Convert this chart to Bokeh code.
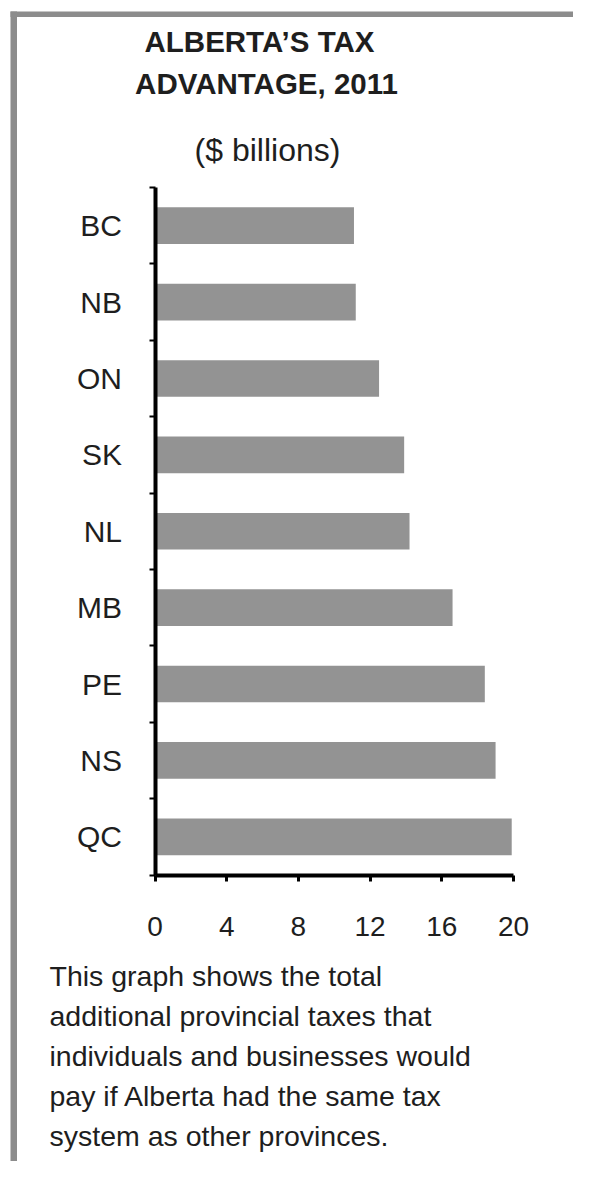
from bokeh.plotting import figure
from bokeh.models import Range1d, FixedTicker, Label, BoxAnnotation
from bokeh.embed import file_html
from bokeh.resources import INLINE

# ---- data ----
provinces = ["BC", "NB", "ON", "SK", "NL", "MB", "PE", "NS", "QC"]
advantage = [11.1, 11.2, 12.5, 13.9, 14.2, 16.6, 18.4, 19.0, 19.9]
x_ticks = [0, 4, 8, 12, 16, 20]
title_lines = ["ALBERTA\u2019S TAX", "ADVANTAGE, 2011"]
subtitle = "($ billions)"
caption_lines = [
    "This graph shows the total",
    "additional provincial taxes that",
    "individuals and businesses would",
    "pay if Alberta had the same tax",
    "system as other provinces.",
]

# ---- geometry (pixels on the canvas) ----
W, H = 573, 1161
X0, X1 = 154.5, 513.0      # pixel of x=0 and x=20
Y0, Y1 = 187.0, 874.5      # pixel of the top and bottom band edges
n = len(provinces)
XMAX = 20.0
xs = (X1 - X0) / XMAX
ys = (Y1 - Y0) / n
TSHIFT = 11.5              # baseline correction for labels


def dx(px):
    return (px - X0) / xs


def dy(py):
    return 0.5 + (py - Y0) / ys


FONT = "Liberation Sans"
TXT = "#1e1e1e"
GREY = "#8c8c8c"

p = figure(
    width=W, height=H, output_backend="svg", toolbar_location=None,
    x_range=Range1d(dx(0), dx(W)), y_range=Range1d(dy(H), dy(0)),
    min_border=0,
)
p.title.visible = False
p.outline_line_color = None
p.xgrid.visible = False
p.ygrid.visible = False
p.background_fill_color = "white"
p.border_fill_color = "white"

pos = list(range(1, n + 1))
p.hbar(y=pos, left=0, right=advantage, height=0.48,
       fill_color="#939393", line_color=None)

# x axis (kept inside the canvas at the bottom band edge)
xa = p.xaxis[0]
xa.fixed_location = n + 0.5
xa.bounds = (0, XMAX)
xa.ticker = FixedTicker(ticks=x_ticks, minor_ticks=[])
xa.axis_line_width = 4
xa.axis_line_color = "black"
xa.major_tick_in = 0
xa.major_tick_out = 6
xa.major_tick_line_width = 3
xa.minor_tick_line_color = None
xa.major_label_text_font = FONT
xa.major_label_text_font_size = "28px"
xa.major_label_text_color = TXT
xa.major_label_standoff = 36

# y axis
ya = p.yaxis[0]
ya.fixed_location = 0
ya.bounds = (0.5, n + 0.5)
ya.ticker = FixedTicker(ticks=pos, minor_ticks=[i + 0.5 for i in range(n + 1)])
ya.major_label_overrides = {i: name for i, name in zip(pos, provinces)}
ya.axis_line_width = 4
ya.axis_line_color = "black"
ya.major_tick_in = 0
ya.major_tick_out = 0
ya.minor_tick_in = 0
ya.minor_tick_out = 6
ya.minor_tick_line_width = 2
ya.minor_tick_line_color = "black"
ya.major_label_text_font = FONT
ya.major_label_text_font_size = "30px"
ya.major_label_text_color = TXT
ya.major_label_standoff = 27

# frame border (left and top)
p.add_layout(BoxAnnotation(left=dx(10), right=dx(16.5), top=dy(11), bottom=dy(H + 10),
                           fill_color=GREY, fill_alpha=1, line_color=None))
p.add_layout(BoxAnnotation(left=dx(10), right=dx(W + 10), top=dy(11), bottom=dy(16.5),
                           fill_color=GREY, fill_alpha=1, line_color=None))

# titles
title_cx = [259, 266]
for i, t in enumerate(title_lines):
    p.add_layout(Label(x=dx(title_cx[i]), y=dy(52.5 + 42 * i - TSHIFT), text=t,
                       text_align="center", text_baseline="alphabetic", text_font=FONT,
                       text_font_style="bold", text_font_size="29.5px", text_color=TXT))
p.add_layout(Label(x=dx(267), y=dy(161 - TSHIFT), text=subtitle, text_align="center",
                   text_baseline="alphabetic", text_font=FONT,
                   text_font_size="32px", text_color=TXT))

for i, t in enumerate(caption_lines):
    p.add_layout(Label(x=dx(49), y=dy(987 + 40 * i - TSHIFT), text=t, text_align="left",
                       text_baseline="alphabetic", text_font=FONT,
                       text_font_size="28.5px", text_color=TXT))

open("out.html", "w").write(file_html(p, INLINE))
